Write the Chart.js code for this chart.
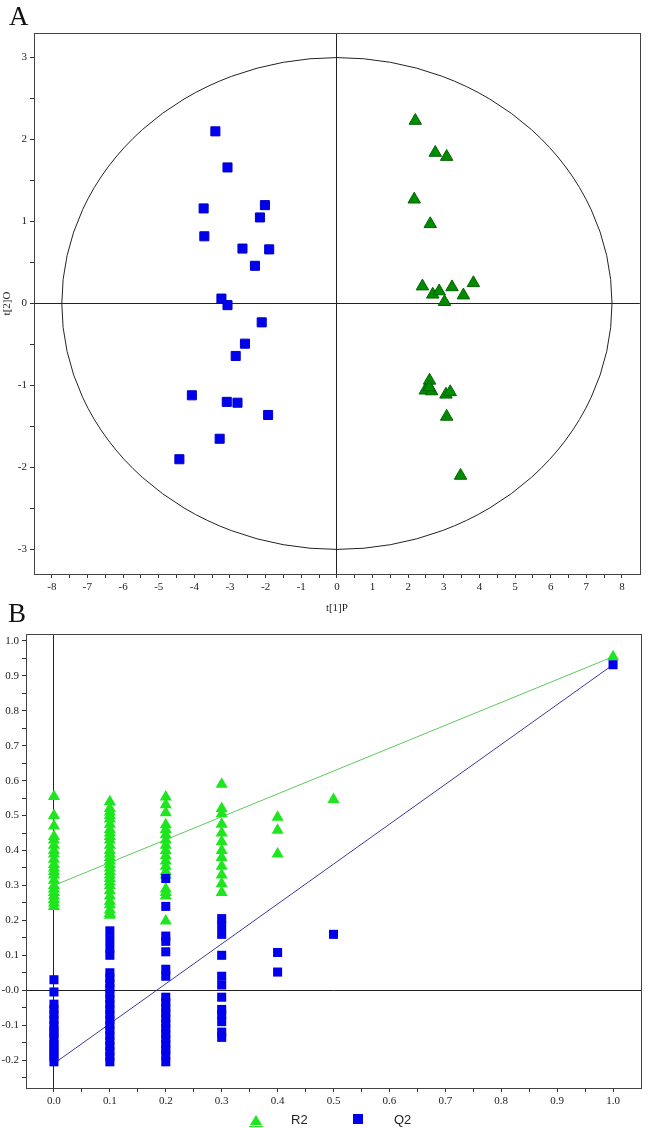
<!DOCTYPE html>
<html>
<head>
<meta charset="utf-8">
<script src="https://cdn.jsdelivr.net/npm/chart.js@4.4.1/dist/chart.umd.min.js"></script>
<style>
  html, body { margin:0; padding:0; background:#fff; }
  body { width:648px; height:1128px; position:relative; overflow:hidden; }
  .panel-label { position:absolute; font-family:'Liberation Serif', serif; font-size:27px; line-height:27px; color:#111; z-index:2; }
  #wrapA { position:absolute; left:0; top:0; width:648px; height:620px; }
  #wrapB { position:absolute; left:0; top:620px; width:648px; height:508px; }
  .lg-text { position:absolute; font-family:'Liberation Sans', sans-serif; font-size:13px; line-height:13px; color:#222; }
  .lg-tri { position:absolute; width:0; height:0; border-left:6px solid transparent; border-right:6px solid transparent; border-bottom:10px solid #1ee61e; }
  .lg-line { position:absolute; height:1px; background:#1ee61e; }
  .lg-sq { position:absolute; width:10px; height:10px; background:#0000ee; }
</style>
</head>
<body>
<div class="panel-label" style="left:9px; top:3px;">A</div>
<div class="panel-label" style="left:8px; top:600px;">B</div>
<div id="wrapA"><canvas id="chartA" width="648" height="620"></canvas></div>
<div id="wrapB"><canvas id="chartB" width="648" height="508"></canvas></div>
<div class="lg-tri" style="left:250px; top:1115px;"></div>
<div class="lg-line" style="left:249px; top:1126px; width:14px;"></div>
<div class="lg-text" style="left:291px; top:1113px;">R2</div>
<div class="lg-sq" style="left:353px; top:1114px;"></div>
<div class="lg-text" style="left:394px; top:1113px;">Q2</div>
<script>
// ---- panel A : score plot t[1]P / t[2]O ----
const blueT1 = [-3.41, -3.07, -3.74, -2.02, -2.16, -3.72, -2.65, -1.90, -2.30, -3.24, -3.07, -2.11, -2.58, -2.84, -4.07, -3.09, -2.79, -1.93, -3.29, -4.42];
const blueT2 = [2.10, 1.66, 1.16, 1.20, 1.05, 0.82, 0.67, 0.66, 0.46, 0.06, -0.02, -0.23, -0.49, -0.64, -1.12, -1.20, -1.21, -1.36, -1.65, -1.90];
const greenT1 = [2.20, 2.76, 3.08, 2.17, 2.62, 2.40, 2.69, 2.87, 3.02, 3.23, 3.55, 3.83, 2.60, 2.48, 2.66, 2.59, 3.06, 3.18, 3.08, 3.47];
const greenT2 = [2.23, 1.84, 1.79, 1.27, 0.97, 0.21, 0.11, 0.15, 0.02, 0.20, 0.10, 0.25, -0.94, -1.06, -1.07, -1.02, -1.11, -1.08, -1.38, -2.10];
// Hotelling T2 ellipse half axes
const ellipseT1 = 7.72;
const ellipseT2 = 3.0;
const xTicksA = [-8, -7, -6, -5, -4, -3, -2, -1, 0, 1, 2, 3, 4, 5, 6, 7, 8];
const xLabelsA = ['-8', '-7', '-6', '-5', '-4', '-3', '-2', '-1', '0', '1', '2', '3', '4', '5', '6', '7', '8'];
const yTicksA = [-3, -2, -1, 0, 1, 2, 3];
const yLabelsA = ['-3', '-2', '-1', '0', '1', '2', '3'];

// ---- panel B : permutation test ----
const permCorr = [0.0, 0.1, 0.2, 0.3, 0.4, 0.5, 1.0];
const r2Values = [
  [0.555, 0.50, 0.47, 0.44, 0.43, 0.415, 0.40, 0.39, 0.375, 0.36, 0.35, 0.34, 0.33, 0.315, 0.30, 0.29, 0.28, 0.27, 0.26, 0.25, 0.24],
  [0.54, 0.52, 0.51, 0.50, 0.49, 0.475, 0.46, 0.45, 0.44, 0.43, 0.415, 0.40, 0.39, 0.38, 0.37, 0.36, 0.35, 0.34, 0.33, 0.32, 0.31, 0.30, 0.285, 0.27, 0.255, 0.245, 0.23, 0.22, 0.215],
  [0.553, 0.531, 0.508, 0.474, 0.46, 0.445, 0.43, 0.415, 0.40, 0.385, 0.37, 0.355, 0.34, 0.33, 0.29, 0.28, 0.27, 0.198],
  [0.59, 0.52, 0.505, 0.475, 0.45, 0.425, 0.40, 0.38, 0.355, 0.33, 0.305, 0.28],
  [0.495, 0.458, 0.39],
  [0.546],
  [0.955]
];
const q2Values = [
  [0.03, -0.005, -0.04, -0.055, -0.07, -0.085, -0.10, -0.115, -0.125, -0.14, -0.155, -0.165, -0.18, -0.19, -0.205],
  [0.17, 0.145, 0.12, 0.10, 0.05, 0.035, 0.02, 0.005, -0.01, -0.025, -0.04, -0.055, -0.07, -0.085, -0.10, -0.115, -0.13, -0.145, -0.16, -0.175, -0.19, -0.205],
  [0.32, 0.24, 0.155, 0.14, 0.11, 0.06, 0.04, -0.02, -0.035, -0.05, -0.065, -0.08, -0.095, -0.11, -0.125, -0.14, -0.155, -0.17, -0.185, -0.205],
  [0.205, 0.185, 0.16, 0.10, 0.04, 0.015, -0.02, -0.055, -0.07, -0.09, -0.12, -0.135],
  [0.108, 0.052],
  [0.16],
  [0.932]
];
// regression lines: intercept at 0 and original model at 1
const r2LineX = [0.0, 1.0];
const r2LineY = [0.30, 0.955];
const q2LineX = [0.0, 1.0];
const q2LineY = [-0.21, 0.932];
const xTicksB = [0, 0.1, 0.2, 0.3, 0.4, 0.5, 0.6, 0.7, 0.8, 0.9, 1.0];
const xLabelsB = ['0.0', '0.1', '0.2', '0.3', '0.4', '0.5', '0.6', '0.7', '0.8', '0.9', '1.0'];
const yTicksB = [-0.2, -0.1, 0, 0.1, 0.2, 0.3, 0.4, 0.5, 0.6, 0.7, 0.8, 0.9, 1.0];
const yLabelsB = ['-0.2', '-0.1', '-0.0', '0.1', '0.2', '0.3', '0.4', '0.5', '0.6', '0.7', '0.8', '0.9', '1.0'];

const TICK_FONT = { family: "'Liberation Serif', serif", size: 11 };
const INK = '#222';

// small helpers
function labelFrom(values, labels) {
  return (v) => {
    const i = values.findIndex(t => Math.abs(t - v) < 1e-6);
    return i < 0 ? '' : labels[i];
  };
}
function stepTicks(lo, hi, step) {
  const out = [];
  for (let i = Math.round(lo / step); i <= Math.round(hi / step); i++) {
    out.push({ value: +(i * step).toFixed(4) });
  }
  return out;
}
function axis(min, max, tickLo, tickHi, step, labelFn, size, extra) {
  return Object.assign({
    type: 'linear', min: min, max: max,
    border: { display: false },
    grid: {
      color: (c) => (c.tick && Math.abs(c.tick.value) < 1e-9) ? INK : 'rgba(0,0,0,0)',
      tickColor: '#333', tickLength: 4, lineWidth: 1
    },
    ticks: { font: TICK_FONT, color: INK, autoSkip: false, maxRotation: 0, padding: 3, callback: labelFn },
    afterBuildTicks: (s) => { s.ticks = stepTicks(tickLo, tickHi, step); },
    afterFit: (s) => { if (s.isHorizontal()) s.height = size; else s.width = size; }
  }, extra || {});
}

const framePlugin = {
  id: 'frame',
  afterDatasetsDraw(chart) {
    const { ctx, chartArea: a } = chart;
    ctx.save();
    ctx.strokeStyle = '#444';
    ctx.lineWidth = 1;
    ctx.strokeRect(Math.round(a.left) + 0.5, Math.round(a.top) + 0.5, Math.round(a.right - a.left), Math.round(a.bottom - a.top));
    ctx.restore();
  }
};

const ellipsePlugin = {
  id: 'hotelling',
  beforeDatasetsDraw(chart) {
    const { ctx, chartArea: a, scales: { x, y } } = chart;
    const cx = x.getPixelForValue(0), cy = y.getPixelForValue(0);
    const rx = x.getPixelForValue(ellipseT1) - cx;
    const ry = cy - y.getPixelForValue(ellipseT2);
    ctx.save();
    ctx.beginPath();
    ctx.rect(a.left, a.top, a.right - a.left, a.bottom - a.top);
    ctx.clip();
    ctx.beginPath();
    ctx.ellipse(cx, cy, rx, ry, 0, 0, Math.PI * 2);
    ctx.strokeStyle = '#222';
    ctx.lineWidth = 1;
    ctx.stroke();
    ctx.restore();
  }
};

// Chart A
new Chart(document.getElementById('chartA'), {
  type: 'scatter',
  data: {
    datasets: [
      {
        label: 'blue',
        data: blueT1.map((x, i) => ({ x: x, y: blueT2[i] })),
        pointStyle: 'rect', pointRadius: 6.4, pointHoverRadius: 6.4,
        backgroundColor: '#0000ee', borderColor: '#0000c8', borderWidth: 1
      },
      {
        label: 'green',
        data: greenT1.map((x, i) => ({ x: x, y: greenT2[i] })),
        pointStyle: 'triangle', pointRadius: 7.2, pointHoverRadius: 7.2,
        backgroundColor: '#008c00', borderColor: '#006400', borderWidth: 1
      }
    ]
  },
  options: {
    responsive: false, animation: false, devicePixelRatio: 1,
    layout: { padding: { top: 33, right: 6, left: 0, bottom: 0 } },
    plugins: { legend: { display: false }, tooltip: { enabled: false } },
    scales: {
      x: axis(-8.5, 8.5, -8, 8, 0.5, labelFrom(xTicksA, xLabelsA), 46, {
        title: { display: true, text: 't[1]P', color: INK, font: TICK_FONT, padding: { top: 0, bottom: 5 } }
      }),
      y: axis(-3.3, 3.3, -3, 3, 0.5, labelFrom(yTicksA, yLabelsA), 34, {
        title: { display: true, text: 't[2]O', color: INK, font: TICK_FONT, padding: { top: 1, bottom: 0 } }
      })
    }
  },
  plugins: [ellipsePlugin, framePlugin]
});

// Chart B
const r2Points = permCorr.flatMap((c, i) => r2Values[i].map(v => ({ x: c, y: v })));
const q2Points = permCorr.flatMap((c, i) => q2Values[i].map(v => ({ x: c, y: v })));

new Chart(document.getElementById('chartB'), {
  type: 'scatter',
  data: {
    datasets: [
      {
        label: 'Q2', data: q2Points, order: 1,
        pointStyle: 'rect', pointRadius: 6.4, pointHoverRadius: 6.4,
        backgroundColor: '#0000ee', borderColor: '#0000ee', borderWidth: 0
      },
      {
        label: 'R2', data: r2Points, order: 2,
        pointStyle: 'triangle', pointRadius: 7, pointHoverRadius: 7,
        backgroundColor: '#1ee61e', borderColor: '#1ee61e', borderWidth: 0
      },
      {
        label: 'R2 line', data: r2LineX.map((x, i) => ({ x: x, y: r2LineY[i] })), order: 3,
        showLine: true, pointRadius: 0, borderColor: '#5ccc5c', borderWidth: 1
      },
      {
        label: 'Q2 line', data: q2LineX.map((x, i) => ({ x: x, y: q2LineY[i] })), order: 4,
        showLine: true, pointRadius: 0, borderColor: '#3a3a9e', borderWidth: 1
      }
    ]
  },
  options: {
    responsive: false, animation: false, devicePixelRatio: 1,
    layout: { padding: { top: 14, right: 6, left: 0, bottom: 0 } },
    plugins: { legend: { display: false }, tooltip: { enabled: false } },
    scales: {
      x: axis(-0.05, 1.05, 0, 1.0, 0.05, labelFrom(xTicksB, xLabelsB), 40),
      y: axis(-0.28, 1.02, -0.25, 1.0, 0.05, labelFrom(yTicksB, yLabelsB), 26, {})
    }
  },
  plugins: [framePlugin]
});
</script>
</body>
</html>
